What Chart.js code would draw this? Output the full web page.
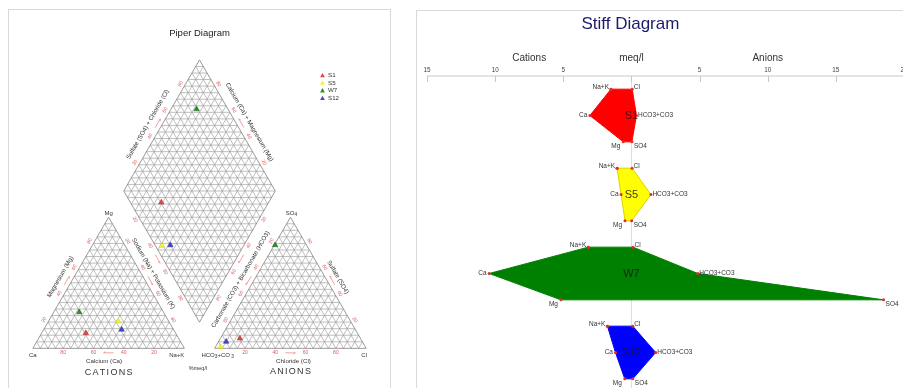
<!DOCTYPE html>
<html>
<head>
<meta charset="utf-8">
<script src="https://cdn.jsdelivr.net/npm/chart.js@4.4.1/dist/chart.umd.min.js"></script>
<style>
  html, body { margin: 0; padding: 0; background: #fff; width: 903px; height: 388px; overflow: hidden; position: relative; }
  .panel { position: absolute; border: 1.5px solid #d9d9d9; box-sizing: border-box; }
  canvas { position: absolute; }
</style>
</head>
<body>
<div class="panel" style="left:8px;top:9px;width:383px;height:400px"></div>
<div class="panel" style="left:416px;top:10px;width:540px;height:400px"></div>
<canvas id="piper" width="400" height="388" style="left:0;top:0"></canvas>
<canvas id="stiff" width="560" height="400" style="left:410px;top:0"></canvas>
<script>
// Major ion concentrations per sample, meq/l
const samples = ['S1', 'S5', 'W7', 'S12'];
const naK  = [1.50, 1.05, 3.17, 1.76];
const ca   = [3.05, 0.76, 10.44, 1.17];
const mg   = [0.60, 0.47, 5.17, 0.49];
const cl   = [0.06, 0.05, 0.12, 0.10];
const hco3 = [0.37, 1.43, 4.87, 1.78];
const so4  = [0.035, 0.015, 18.5, 0.10];

const stiffTicks = [-15, -10, -5, 0, 5, 10, 15, 20];
const stiffIons = ['Na+K', 'Cl', 'HCO3+CO3', 'SO4', 'Mg', 'Ca'];
const pctTicks = [20, 40, 60, 80];

const piperColors = ['#e04646', '#f4f43c', '#2e8b2e', '#4646c8'];
const piperEdge   = ['#b02a2a', '#c8c820', '#1d651d', '#2a2a96'];
const stiffColors = ['#ff0000', '#ffff00', '#008000', '#0000ff'];
const stiffEdges  = ['#ff0000', '#e0d000', '#008000', '#0000ff'];

const FONT = '"Liberation Sans", Arial, sans-serif';

function txt(ctx, s, x, y, o = {}) {
  ctx.save();
  ctx.translate(x, y);
  if (o.angle) ctx.rotate(o.angle * Math.PI / 180);
  ctx.font = `${o.size || 6}px ${FONT}`;
  ctx.fillStyle = o.color || '#333';
  ctx.textAlign = o.align || 'center';
  ctx.textBaseline = o.base || 'middle';
  ctx.fillText(s, 0, 0);
  ctx.restore();
}

// text made of runs, some of them lowered as subscripts
function runs(ctx, parts, x, y, size, color) {
  ctx.save();
  ctx.fillStyle = color;
  ctx.textBaseline = 'middle';
  ctx.textAlign = 'left';
  let w = 0;
  parts.forEach(([s, sub]) => { ctx.font = `${sub ? size * 0.8 : size}px ${FONT}`; w += ctx.measureText(s).width; });
  let cx = x - w / 2;
  parts.forEach(([s, sub]) => {
    ctx.font = `${sub ? size * 0.8 : size}px ${FONT}`;
    ctx.fillText(s, cx, y + (sub ? size * 0.3 : 0));
    cx += ctx.measureText(s).width;
  });
  ctx.restore();
}

function spaced(ctx, s, x, y, size, spacing, color) {
  ctx.save();
  ctx.font = `${size}px ${FONT}`;
  ctx.fillStyle = color;
  ctx.textBaseline = 'middle';
  ctx.textAlign = 'left';
  const widths = [...s].map(c => ctx.measureText(c).width);
  const total = widths.reduce((a, b) => a + b, 0) + spacing * (s.length - 1);
  let cx = x - total / 2;
  [...s].forEach((c, i) => { ctx.fillText(c, cx, y); cx += widths[i] + spacing; });
  ctx.restore();
}

/* ---------------- Piper diagram ---------------- */
const H = Math.sqrt(3) / 2;
const GAP = 20;
const ANX = 100 + GAP;          // left corner of the anion triangle
const DX = 100 + GAP / 2;       // bottom apex of the diamond
const DY = GAP * H;

// ternary point: b = right-corner %, c = apex %
const tern = (ox, b, c) => ({ x: ox + b + c / 2, y: c * H });
// diamond point: p = (Ca+Mg) %, q = (SO4+Cl) %
const dia = (p, q) => ({ x: DX - p / 2 + q / 2, y: DY + (p + q) * H });

const piperSets = samples.map((s, i) => {
  const cT = ca[i] + mg[i] + naK[i];
  const aT = cl[i] + hco3[i] + so4[i];
  const nakP = 100 * naK[i] / cT, mgP = 100 * mg[i] / cT, caP = 100 * ca[i] / cT;
  const clP = 100 * cl[i] / aT, so4P = 100 * so4[i] / aT;
  return {
    label: s,
    data: [tern(0, nakP, mgP), tern(ANX, clP, so4P), dia(caP + mgP, so4P + clP)],
    pointStyle: 'triangle',
    pointRadius: 3.2,
    backgroundColor: piperColors[i],
    borderColor: piperEdge[i],
    borderWidth: 0.5,
    clip: false
  };
});

const N = { L: [-H, -0.5], R: [H, -0.5], B: [0, 1], LL: [-H, 0.5], LR: [H, 0.5] };
const edges = [
  { pos: v => tern(0, v, 0),         n: N.B,  ang: 0,   lab: v => 100 - v, inc: -1, title: 'Calcium (Ca)', tv: 47, td: 13 },
  { pos: v => tern(0, 0, v),         n: N.L,  ang: -60, lab: v => v,       inc: 1,  title: 'Magnesium (Mg)', tv: 50, td: 12 },
  { pos: v => tern(0, 100 - v, v),   n: N.R,  ang: 60,  lab: v => 100 - v, inc: -1, title: 'Sodium (Na) + Potassium (K)', tv: 53, td: 10.5 },
  { pos: v => tern(ANX, v, 0),       n: N.B,  ang: 0,   lab: v => v,       inc: 1,  title: 'Chloride (Cl)', tv: 52, td: 13 },
  { pos: v => tern(ANX, 0, v),       n: N.L,  ang: -60, lab: v => 100 - v, inc: -1, title: 'Carbonate (CO3) + Bicarbonate (HCO3)', tv: 48, td: 12 },
  { pos: v => tern(ANX, 100 - v, v), n: N.R,  ang: 60,  lab: v => v,       inc: 1,  title: 'Sulfate (SO4)', tv: 50, td: 11 },
  { pos: v => dia(100, v),           n: N.L,  ang: -60, lab: v => v,       inc: 1,  title: 'Sulfate (SO4) + Chloride (Cl)', tv: 46, td: 12.5 },
  { pos: v => dia(v, 100),           n: N.R,  ang: 60,  lab: v => v,       inc: 1,  title: 'Calcium (Ca) + Magnesium (Mg)', tv: 48, td: 12 },
  { pos: v => dia(v, 0),             n: N.LL, ang: 60,  lab: v => 100 - v, inc: -1 },
  { pos: v => dia(0, v),             n: N.LR, ang: -60, lab: v => 100 - v, inc: -1 }
];

const piperDecor = {
  id: 'piperDecor',
  beforeDatasetsDraw(chart) {
    const { ctx, scales: { x, y } } = chart;
    const P = pt => [x.getPixelForValue(pt.x), y.getPixelForValue(pt.y)];
    const seg = (a, b) => { const A = P(a), B = P(b); ctx.moveTo(A[0], A[1]); ctx.lineTo(B[0], B[1]); };
    ctx.save();
    ctx.strokeStyle = '#9c9c9c';
    ctx.lineWidth = 0.65;
    ctx.beginPath();
    for (let t = 5; t < 100; t += 5) {
      [0, ANX].forEach(ox => {
        seg(tern(ox, 0, t), tern(ox, 100 - t, t));
        seg(tern(ox, t, 0), tern(ox, t, 100 - t));
        seg(tern(ox, 100 - t, 0), tern(ox, 0, 100 - t));
      });
      seg(dia(t, 0), dia(t, 100));
      seg(dia(0, t), dia(100, t));
    }
    for (let s = 5; s < 200; s += 5) {
      const p0 = Math.max(0, s - 100), p1 = Math.min(100, s);
      seg(dia(p0, s - p0), dia(p1, s - p1));
    }
    ctx.stroke();

    ctx.strokeStyle = '#808080';
    ctx.lineWidth = 0.8;
    const poly = pts => { pts.forEach((p, k) => { const q = P(p); k ? ctx.lineTo(q[0], q[1]) : ctx.moveTo(q[0], q[1]); }); ctx.closePath(); };
    ctx.beginPath();
    [0, ANX].forEach(ox => poly([tern(ox, 0, 0), tern(ox, 100, 0), tern(ox, 0, 100)]));
    poly([dia(0, 0), dia(100, 0), dia(100, 100), dia(0, 100)]);
    ctx.stroke();
    ctx.restore();
  },
  afterDatasetsDraw(chart) {
    const { ctx, scales: { x, y } } = chart;
    const P = pt => [x.getPixelForValue(pt.x), y.getPixelForValue(pt.y)];
    const red = '#e05a5a';

    edges.forEach(e => {
      // percentage labels
      pctTicks.forEach(v => {
        const [px, py] = P(e.pos(v));
        txt(ctx, String(e.lab(v)), px + e.n[0] * 4.5, py + e.n[1] * 4.5, { size: 5, color: red, angle: e.ang });
      });
      // direction arrow
      const [ax, ay] = P(e.pos(45)), [bx, by] = P(e.pos(55));
      const len = Math.hypot(bx - ax, by - ay);
      const dx = (bx - ax) / len * e.inc, dy = (by - ay) / len * e.inc;
      const [cx0, cy0] = P(e.pos(50));
      const cx = cx0 + e.n[0] * 4.5, cy = cy0 + e.n[1] * 4.5;
      ctx.save();
      ctx.strokeStyle = '#e77';
      ctx.lineWidth = 0.7;
      ctx.beginPath();
      ctx.moveTo(cx - dx * 5, cy - dy * 5);
      ctx.lineTo(cx + dx * 5, cy + dy * 5);
      ctx.moveTo(cx + dx * 5, cy + dy * 5);
      ctx.lineTo(cx + dx * 3 - dy * 1.2, cy + dy * 3 + dx * 1.2);
      ctx.stroke();
      ctx.restore();
      // axis title
      if (e.title) {
        const [tx, ty] = P(e.pos(e.tv));
        txt(ctx, e.title, tx + e.n[0] * e.td, ty + e.n[1] * e.td, { size: 6.2, color: '#333', angle: e.ang });
      }
    });

    // corner labels
    const corner = (pt, dx, dy) => { const [px, py] = P(pt); return [px + dx, py + dy]; };
    let c;
    c = corner(tern(0, 0, 0), 0, 7);        txt(ctx, 'Ca', c[0], c[1], { size: 6 });
    c = corner(tern(0, 100, 0), 0, 7);      txt(ctx, 'Na+K', c[0], c[1], { size: 6, align: 'right' });
    c = corner(tern(0, 0, 100), 0, -4);     txt(ctx, 'Mg', c[0], c[1], { size: 6 });
    c = corner(tern(ANX, 0, 0), 3, 7);      runs(ctx, [['HCO', 0], ['3', 1], ['+CO', 0], [' 3', 1]], c[0], c[1], 6, '#333');
    c = corner(tern(ANX, 100, 0), -2, 7);   txt(ctx, 'Cl', c[0], c[1], { size: 6 });
    c = corner(tern(ANX, 0, 100), 1, -4);   runs(ctx, [['SO', 0], ['4', 1]], c[0], c[1], 6, '#333');

    // group captions
    c = corner(tern(0, 50, 0), 0, 24);      spaced(ctx, 'CATIONS', c[0], c[1], 9, 1.3, '#333');
    c = corner(tern(ANX, 50, 0), 0, 23);    spaced(ctx, 'ANIONS', c[0], c[1], 9, 1.3, '#333');
    c = corner({ x: DX - 1, y: 0 }, 0, 20); txt(ctx, '%meq/l', c[0], c[1], { size: 5.5 });

    // heading
    c = corner({ x: DX, y: 0 }, 0, 0);
    txt(ctx, 'Piper Diagram', c[0], 33, { size: 9.5, color: '#222' });

    // legend
    chart.data.datasets.forEach((ds, i) => {
      const lx = 322.5, ly = 75.5 + i * 7.6;
      ctx.save();
      ctx.fillStyle = ds.backgroundColor;
      ctx.beginPath();
      ctx.moveTo(lx, ly - 2.6);
      ctx.lineTo(lx + 2.4, ly + 1.7);
      ctx.lineTo(lx - 2.4, ly + 1.7);
      ctx.closePath();
      ctx.fill();
      ctx.restore();
      txt(ctx, ds.label, lx + 5.5, ly, { size: 6.2, align: 'left' });
    });
  }
};

new Chart(document.getElementById('piper'), {
  type: 'scatter',
  data: { datasets: piperSets },
  options: {
    responsive: false,
    animation: false,
    devicePixelRatio: 1,
    layout: { padding: 0 },
    events: [],
    scales: {
      x: { type: 'linear', min: -18.71, max: 239.35, display: false },
      y: { type: 'linear', min: -23.23, max: 227.1, display: false }
    },
    plugins: { legend: { display: false }, tooltip: { enabled: false } }
  },
  plugins: [piperDecor]
});

/* ---------------- Stiff diagram ---------------- */
const stiffSets = samples.map((s, i) => {
  const r = i * 3;
  return {
    label: s,
    data: [
      { x: -naK[i], y: r }, { x: cl[i], y: r },
      { x: hco3[i], y: r + 1 }, { x: so4[i], y: r + 2 },
      { x: -mg[i], y: r + 2 }, { x: -ca[i], y: r + 1 },
      { x: -naK[i], y: r }
    ],
    showLine: true,
    fill: 'shape',
    tension: 0,
    backgroundColor: stiffColors[i],
    borderColor: stiffEdges[i],
    borderWidth: 1,
    pointRadius: 1.5,
    pointBackgroundColor: '#e52b2b',
    pointBorderWidth: 0,
    clip: false
  };
});

const vertexLabel = [
  { align: 'right', dx: -2, dy: -2 },
  { align: 'left',  dx: 1.5, dy: -2 },
  { align: 'left',  dx: 1.5, dy: 0 },
  { align: 'left',  dx: 2, dy: 4.5 },
  { align: 'right', dx: -3, dy: 4.5 },
  { align: 'right', dx: -2.5, dy: 0 }
];

const stiffDecor = {
  id: 'stiffDecor',
  beforeDatasetsDraw(chart) {
    const { ctx, chartArea, scales: { x } } = chart;
    const x0 = x.getPixelForValue(0);
    ctx.save();
    ctx.strokeStyle = '#dcdcdc';
    ctx.lineWidth = 1;
    ctx.beginPath();
    ctx.moveTo(x0, chartArea.top);
    ctx.lineTo(x0, chart.height);
    ctx.stroke();

    // meq/l axis along the top with inward ticks
    const top = chartArea.top;
    ctx.strokeStyle = '#c8c8c8';
    ctx.beginPath();
    ctx.moveTo(x.getPixelForValue(stiffTicks[0]), top);
    ctx.lineTo(x.getPixelForValue(stiffTicks[stiffTicks.length - 1]), top);
    stiffTicks.forEach(v => {
      const px = Math.round(x.getPixelForValue(v)) + 0.5;
      ctx.moveTo(px, top);
      ctx.lineTo(px, top + 6);
    });
    ctx.stroke();
    ctx.restore();
    stiffTicks.forEach(v => {
      if (v !== 0) txt(ctx, String(Math.abs(v)), x.getPixelForValue(v), top - 5.5, { size: 6.3, color: '#444' });
    });
    txt(ctx, 'Cations', x.getPixelForValue(-7.5), 58, { size: 10, color: '#333' });
    txt(ctx, 'meq/l', x.getPixelForValue(0), 58, { size: 10, color: '#333' });
    txt(ctx, 'Anions', x.getPixelForValue(10), 58, { size: 10, color: '#333' });
    txt(ctx, 'Stiff Diagram', x.getPixelForValue(0) - 1, 24.5, { size: 17, color: '#1b1b6e' });
  },
  afterDatasetsDraw(chart) {
    const { ctx, scales: { x, y } } = chart;
    chart.data.datasets.forEach((ds, i) => {
      const meta = chart.getDatasetMeta(i);
      stiffIons.forEach((name, k) => {
        const pt = meta.data[k];
        const o = vertexLabel[k];
        txt(ctx, name, pt.x + o.dx, pt.y + o.dy, { size: 6.5, align: o.align, color: '#333' });
      });
      txt(ctx, ds.label, x.getPixelForValue(0), y.getPixelForValue(i * 3 + 1), { size: 11, color: 'rgba(25,25,25,0.85)' });
    });
  }
};

new Chart(document.getElementById('stiff'), {
  type: 'scatter',
  data: { datasets: stiffSets },
  options: {
    responsive: false,
    animation: false,
    devicePixelRatio: 1,
    events: [],
    layout: { padding: { left: 17, right: 66, top: 76, bottom: 8 } },
    scales: {
      x: { type: 'linear', min: -15, max: 20, display: false },
      y: { type: 'linear', min: -0.5, max: 11.5, reverse: true, display: false }
    },
    plugins: { legend: { display: false }, tooltip: { enabled: false } }
  },
  plugins: [stiffDecor]
});
</script>
</body>
</html>
